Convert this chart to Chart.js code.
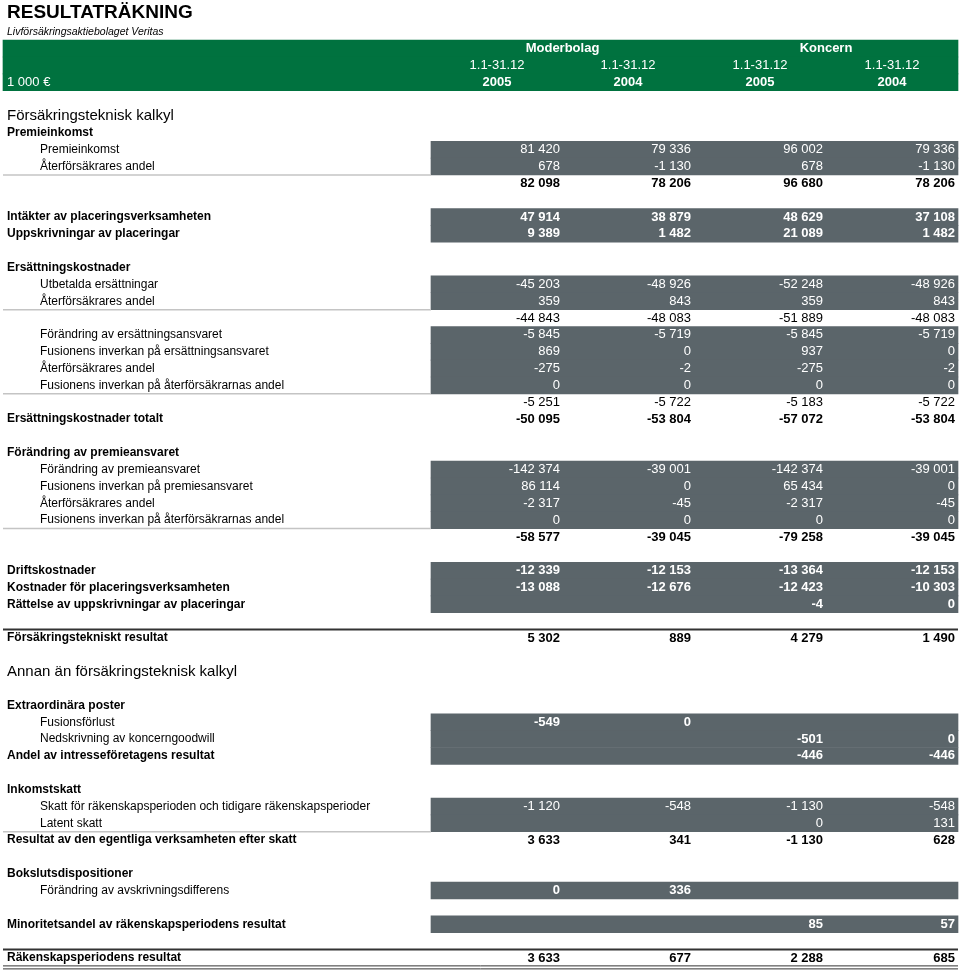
<!DOCTYPE html>
<html lang="sv">

<head>
    <meta charset="UTF-8">
    <script src="https://cdn.jsdelivr.net/npm/chart.js"></script>
    <title>Resultaträkning</title>
    <style>
        body { margin: 0; background: #fff; }
        canvas { display: block; }
    </style>
</head>

<body>
    <canvas id="tabell" width="960" height="970"></canvas>

    <script>
        // --- data ---
        const titel = 'RESULTATRÄKNING'
        const bolag = 'Livförsäkringsaktiebolaget Veritas'
        const enhet = '1 000 €'
        const grupper = ['Moderbolag', 'Koncern']
        const perioder = ['1.1-31.12', '1.1-31.12', '1.1-31.12', '1.1-31.12']
        const ar = ['2005', '2004', '2005', '2004']

        const rader = [
            'Försäkringsteknisk kalkyl',
            'Premieinkomst',
            'Premieinkomst',
            'Återförsäkrares andel',
            '',
            '',
            'Intäkter av placeringsverksamheten',
            'Uppskrivningar av placeringar',
            '',
            'Ersättningskostnader',
            'Utbetalda ersättningar',
            'Återförsäkrares andel',
            '',
            'Förändring av ersättningsansvaret',
            'Fusionens inverkan på ersättningsansvaret',
            'Återförsäkrares andel',
            'Fusionens inverkan på återförsäkrarnas andel',
            '',
            'Ersättningskostnader totalt',
            '',
            'Förändring av premieansvaret',
            'Förändring av premieansvaret',
            'Fusionens inverkan på premiesansvaret',
            'Återförsäkrares andel',
            'Fusionens inverkan på återförsäkrarnas andel',
            '',
            '',
            'Driftskostnader',
            'Kostnader för placeringsverksamheten',
            'Rättelse av uppskrivningar av placeringar',
            '',
            'Försäkringstekniskt resultat',
            '',
            'Annan än försäkringsteknisk kalkyl',
            '',
            'Extraordinära poster',
            'Fusionsförlust',
            'Nedskrivning av koncerngoodwill',
            'Andel av intresseföretagens resultat',
            '',
            'Inkomstskatt',
            'Skatt för räkenskapsperioden och tidigare räkenskapsperioder',
            'Latent skatt',
            'Resultat av den egentliga verksamheten efter skatt',
            '',
            'Bokslutsdispositioner',
            'Förändring av avskrivningsdifferens',
            '',
            'Minoritetsandel av räkenskapsperiodens resultat',
            '',
            'Räkenskapsperiodens resultat'
        ]

        const moder2005 = [
            null, null, 81420, 678, 82098, null, 47914, 9389, null, null,
            -45203, 359, -44843, -5845, 869, -275, 0, -5251, -50095, null,
            null, -142374, 86114, -2317, 0, -58577, null, -12339, -13088, null,
            null, 5302, null, null, null, null, -549, null, null, null,
            null, -1120, null, 3633, null, null, 0, null, null, null,
            3633
        ]
        const moder2004 = [
            null, null, 79336, -1130, 78206, null, 38879, 1482, null, null,
            -48926, 843, -48083, -5719, 0, -2, 0, -5722, -53804, null,
            null, -39001, 0, -45, 0, -39045, null, -12153, -12676, null,
            null, 889, null, null, null, null, 0, null, null, null,
            null, -548, null, 341, null, null, 336, null, null, null,
            677
        ]
        const koncern2005 = [
            null, null, 96002, 678, 96680, null, 48629, 21089, null, null,
            -52248, 359, -51889, -5845, 937, -275, 0, -5183, -57072, null,
            null, -142374, 65434, -2317, 0, -79258, null, -13364, -12423, -4,
            null, 4279, null, null, null, null, null, -501, -446, null,
            null, -1130, 0, -1130, null, null, null, null, 85, null,
            2288
        ]
        const koncern2004 = [
            null, null, 79336, -1130, 78206, null, 37108, 1482, null, null,
            -48926, 843, -48083, -5719, 0, -2, 0, -5722, -53804, null,
            null, -39001, 0, -45, 0, -39045, null, -12153, -10303, 0,
            null, 1490, null, null, null, null, null, 0, -446, null,
            null, -548, 131, 628, null, null, null, null, 57, null,
            685
        ]
        const kolumner = [moder2005, moder2004, koncern2005, koncern2004]

        // --- utseende ---
        const sektionRader = [0, 33]
        const fetRader = [1, 6, 7, 9, 18, 20, 27, 28, 29, 31, 35, 38, 40, 43, 45, 48, 50]
        const indragRader = [2, 3, 10, 11, 13, 14, 15, 16, 21, 22, 23, 24, 36, 37, 41, 42, 46]
        const fetaVarden = [4, 6, 7, 18, 25, 27, 28, 29, 31, 36, 37, 38, 43, 46, 48, 50]
        const gradeRader = [[2, 3], [6, 7], [10, 11], [13, 16], [21, 24], [27, 29], [36, 38], [41, 42], [46, 46], [48, 48]]
        const tunnaLinjer = [3, 11, 16, 24, 42]
        const tjockaLinjer = [31, 50]

        const FONT = "'Liberation Sans', Arial, sans-serif"
        const GRON = '#00723f'
        const GRA = '#5b656a'
        const kolumnHoger = [560, 691, 823, 955]
        const bandVanster = 431
        const bandHoger = 958
        const huvudRader = 6   // titel, bolag, tre rubrikrader, tomrad

        // alla rader i y-axeln: huvud + kropp
        const etiketter = ['t', 's', 'h1', 'h2', 'h3', 'g'].concat(rader)

        // bakgrundsband som flytande staplar
        const bandData = etiketter.map(() => null)
        const bandFarg = etiketter.map(() => GRA)
        for (let i = 2; i <= 4; i++) {
            bandData[i] = [3, bandHoger]
            bandFarg[i] = GRON
        }
        gradeRader.forEach(function (r) {
            for (let k = r[0]; k <= r[1]; k++) bandData[k + huvudRader] = [bandVanster, bandHoger]
        })

        function formatera(v) {
            const s = Math.abs(v).toString().replace(/\B(?=(\d{3})+(?!\d))/g, ' ')
            return (v < 0 ? '-' : '') + s
        }

        function arGrad(k) {
            return gradeRader.some(r => k >= r[0] && k <= r[1])
        }

        const tabellPlugin = {
            id: 'tabell',
            afterDatasetsDraw(chart) {
                const c = chart.ctx
                const x = chart.scales.x
                const y = chart.scales.y
                const rad = (k) => y.getPixelForValue(k + huvudRader)
                const halv = y.getPixelForValue(1) - y.getPixelForValue(0)

                c.save()
                c.textBaseline = 'middle'

                // titel
                c.fillStyle = '#000'
                c.textAlign = 'left'
                c.font = 'bold 19px ' + FONT
                c.fillText(titel, x.getPixelForValue(7), y.getPixelForValue(0) - 2)
                c.font = 'italic 10.5px ' + FONT
                c.fillText(bolag, x.getPixelForValue(7), y.getPixelForValue(1))

                // rubriker i det gröna bandet
                c.fillStyle = '#fff'
                c.font = '13px ' + FONT
                c.fillText(enhet, x.getPixelForValue(7), y.getPixelForValue(4))
                c.textAlign = 'center'
                const mitt = kolumnHoger.map(v => x.getPixelForValue(v - 63))
                c.font = 'bold 13px ' + FONT
                c.fillText(grupper[0], (mitt[0] + mitt[1]) / 2, y.getPixelForValue(2))
                c.fillText(grupper[1], (mitt[2] + mitt[3]) / 2, y.getPixelForValue(2))
                for (let j = 0; j < 4; j++) {
                    c.font = '13px ' + FONT
                    c.fillText(perioder[j], mitt[j], y.getPixelForValue(3))
                    c.font = 'bold 13px ' + FONT
                    c.fillText(ar[j], mitt[j], y.getPixelForValue(4))
                }

                // radetiketter
                c.textAlign = 'left'
                c.fillStyle = '#000'
                rader.forEach(function (txt, k) {
                    if (!txt) return
                    if (sektionRader.includes(k)) c.font = '15px ' + FONT
                    else if (fetRader.includes(k)) c.font = 'bold 12px ' + FONT
                    else c.font = '12px ' + FONT
                    const xx = indragRader.includes(k) ? 40 : 7
                    c.fillText(txt, x.getPixelForValue(xx), rad(k))
                })

                // värden
                c.textAlign = 'right'
                kolumner.forEach(function (serie, j) {
                    serie.forEach(function (v, k) {
                        if (v === null) return
                        c.font = (fetaVarden.includes(k) ? 'bold ' : '') + '13px ' + FONT
                        c.fillStyle = arGrad(k) ? '#fff' : '#000'
                        c.fillText(formatera(v), x.getPixelForValue(kolumnHoger[j]), rad(k))
                    })
                })

                // linjer
                c.strokeStyle = '#c4c4c4'
                c.lineWidth = 1.5
                tunnaLinjer.forEach(function (k) {
                    const yy = rad(k) + halv / 2
                    c.beginPath()
                    c.moveTo(x.getPixelForValue(3), yy)
                    c.lineTo(x.getPixelForValue(bandVanster), yy)
                    c.stroke()
                })
                c.strokeStyle = '#333'
                c.lineWidth = 2
                tjockaLinjer.forEach(function (k) {
                    const yy = rad(k) - halv / 2
                    c.beginPath()
                    c.moveTo(x.getPixelForValue(3), yy)
                    c.lineTo(x.getPixelForValue(bandHoger), yy)
                    c.stroke()
                })
                // dubbel linje under sista raden
                c.lineWidth = 1
                const botten = rad(rader.length - 1) + halv / 2
                ;[botten - 0.5, botten + 2.5].forEach(function (yy) {
                    c.beginPath()
                    c.moveTo(x.getPixelForValue(3), yy)
                    c.lineTo(x.getPixelForValue(bandHoger), yy)
                    c.stroke()
                })
                c.restore()
            }
        }

        var tabell = new Chart(document.getElementById('tabell'), {
            type: 'bar',
            data: {
                labels: etiketter,
                datasets: [{
                    data: bandData,
                    backgroundColor: bandFarg,
                    borderWidth: 0,
                    barPercentage: 1,
                    categoryPercentage: 1
                }]
            },
            options: {
                indexAxis: 'y',
                responsive: false,
                animation: false,
                layout: { padding: { top: 6.5, bottom: 3.6, left: 0, right: 0 } },
                scales: {
                    x: { type: 'linear', min: 0, max: 960, display: false },
                    y: { display: false }
                },
                plugins: {
                    legend: { display: false },
                    tooltip: { enabled: false }
                }
            },
            plugins: [tabellPlugin]
        })
    </script>
</body>

</html>
